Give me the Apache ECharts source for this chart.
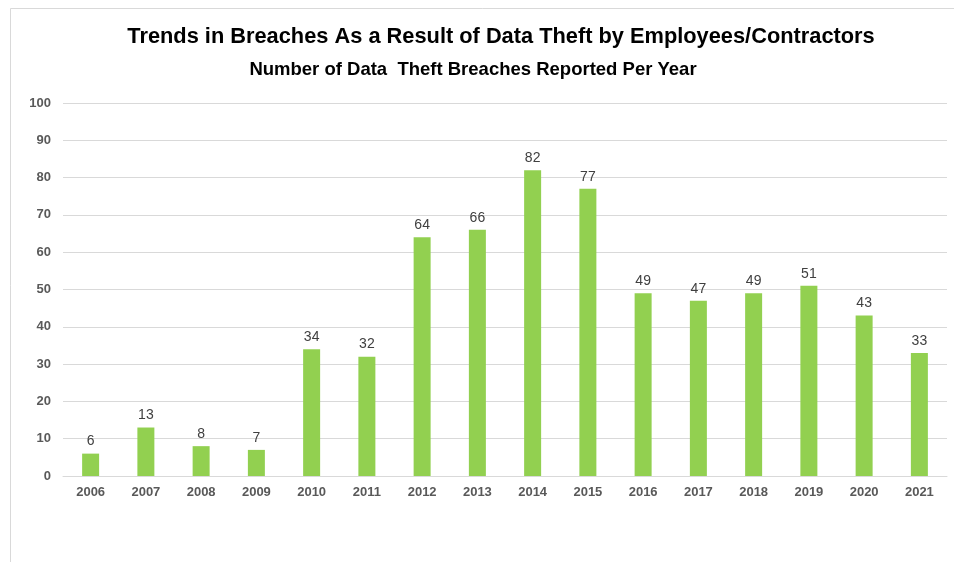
<!DOCTYPE html>
<html>
<head>
<meta charset="utf-8">
<script src="https://cdn.jsdelivr.net/npm/echarts@6/dist/echarts.min.js"></script>
<style>
  html, body { margin: 0; padding: 0; background: #fff; }
  #chart { width: 954px; height: 562px; }
</style>
</head>
<body>
<div id="chart"></div>
<script>
const years = ['2006','2007','2008','2009','2010','2011','2012','2013','2014','2015','2016','2017','2018','2019','2020','2021'];
const breaches = [6, 13, 8, 7, 34, 32, 64, 66, 82, 77, 49, 47, 49, 51, 43, 33];

const chart = echarts.init(document.getElementById('chart'), null, { renderer: 'canvas' });
const font = '"Liberation Sans", Arial, sans-serif';

chart.setOption({
  animation: false,
  backgroundColor: '#ffffff',
  graphic: [{
    type: 'polyline',
    shape: { points: [[10.5, 562], [10.5, 8.5], [954, 8.5]] },
    style: { stroke: '#d9d9d9', lineWidth: 1, fill: null },
    silent: true
  }],
  title: [{
    text: 'Trends in Breaches As a Result of Data Theft by Employees/Contractors',
    left: 496, top: 21, textAlign: 'center',
    textStyle: { fontFamily: font, fontSize: 21.8, fontWeight: 'bold', color: '#000' }
  }, {
    text: 'Number of Data  Theft Breaches Reported Per Year',
    left: 468, top: 55, textAlign: 'center',
    textStyle: { fontFamily: font, fontSize: 18.5, fontWeight: 'bold', color: '#000' }
  }],
  grid: { left: 63, right: 7, top: 103, bottom: 86, containLabel: false },
  xAxis: {
    type: 'category',
    data: years,
    axisLine: { show: true, lineStyle: { color: '#d9d9d9', width: 1 } },
    axisTick: { show: false },
    axisLabel: { fontFamily: font, fontSize: 13, fontWeight: 'bold', color: '#595959', margin: 10 }
  },
  yAxis: {
    type: 'value',
    min: 0, max: 100, interval: 10,
    axisLine: { show: false },
    axisTick: { show: false },
    axisLabel: { fontFamily: font, fontSize: 13, fontWeight: 'bold', color: '#595959', margin: 12 },
    splitLine: { lineStyle: { color: '#d9d9d9', width: 1 } }
  },
  series: [{
    type: 'bar',
    data: breaches,
    barWidth: 17,
    itemStyle: { color: '#92d050' },
    label: {
      show: true, position: 'top', distance: 5,
      fontFamily: font, fontSize: 14, color: '#404040'
    }
  }]
});
</script>
</body>
</html>
